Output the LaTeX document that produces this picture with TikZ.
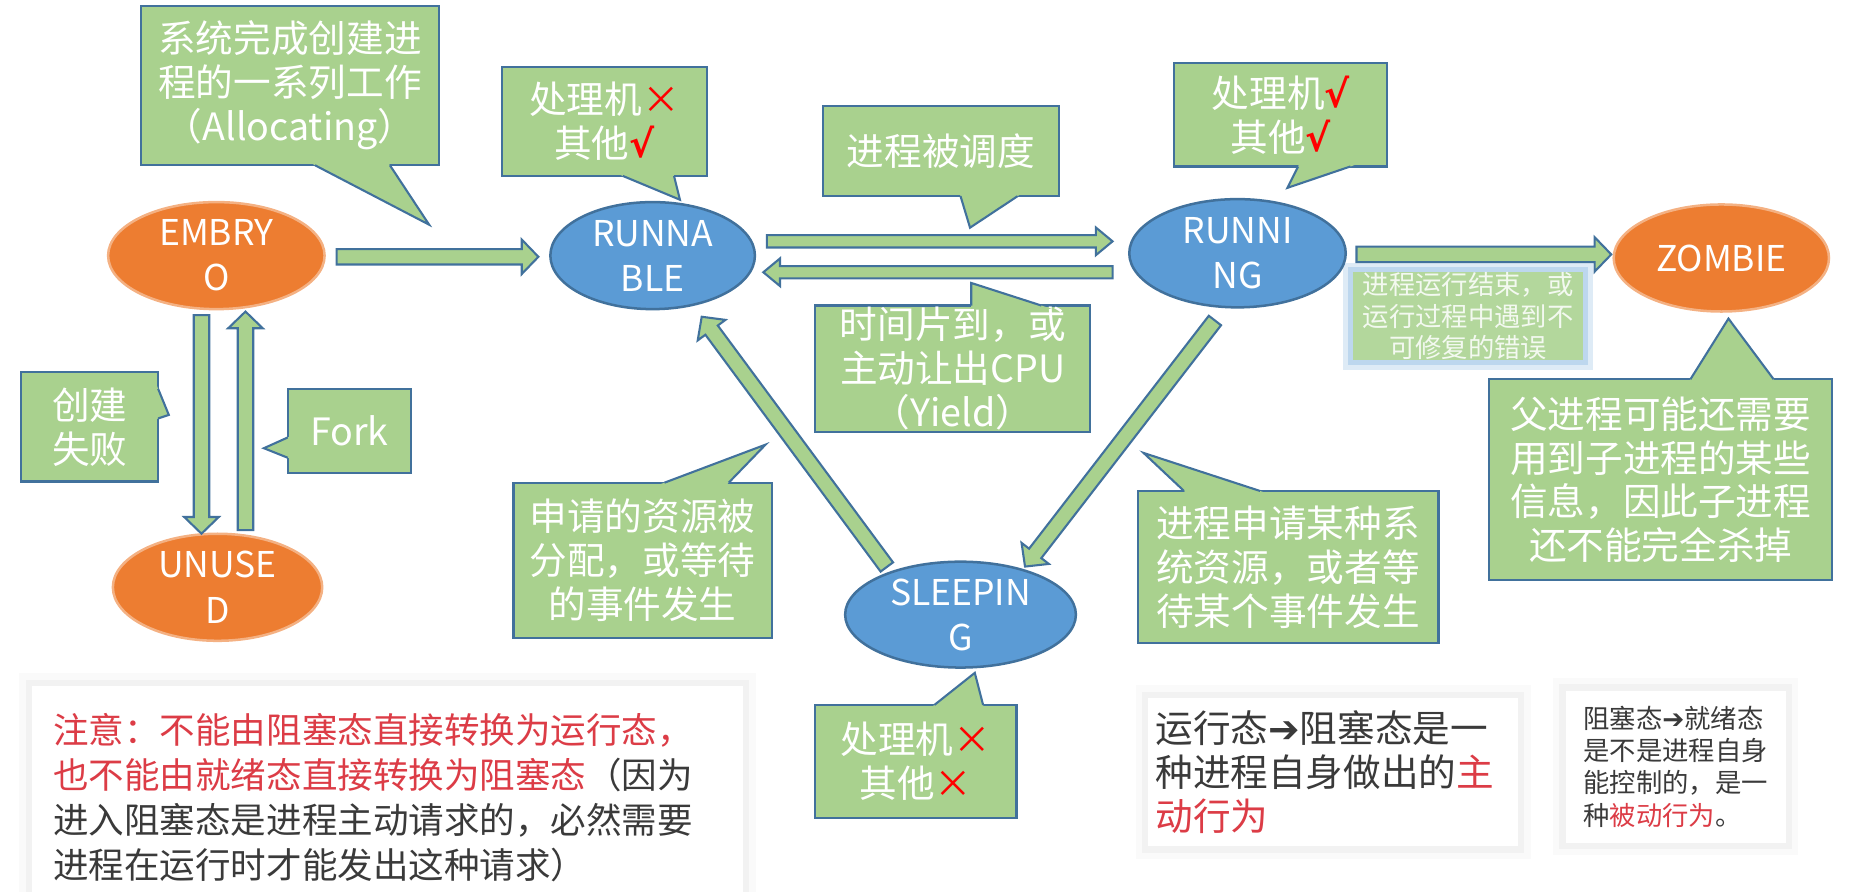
\documentclass[tikz,border=0pt]{standalone}
\usepackage{fontspec}
\setmainfont{Noto Sans CJK SC}
\newfontfamily\arrowfont{DejaVu Sans}
\usetikzlibrary{shapes, calc, positioning}
\definecolor{boxgreen}{HTML}{A9D18E}
\definecolor{lineblue}{HTML}{41719C}
\definecolor{stateorange}{HTML}{ED7D31}
\definecolor{orangeline}{HTML}{F4B183}
\definecolor{stateblue}{HTML}{5B9BD5}
\definecolor{notered}{HTML}{DC3C46}
\definecolor{notegray}{HTML}{3A3A3A}
\definecolor{glowblue}{HTML}{BDD7EE}
\newcommand\yes{\textcolor{red}{\arrowfont\bfseries √}}
\newcommand\no{\textcolor{red}{×}}
\tikzset{
    callbox/.style={rectangle, draw=lineblue, fill=boxgreen, line width=0.5pt, text=white, align=center, inner sep=0pt, font=\fontsize{9}{10.5}\selectfont},
    tailline/.style={draw=lineblue, line width=0.5pt},
    orangestate/.style={ellipse, draw=orangeline, fill=stateorange, line width=0.6pt, text=white, align=center, inner sep=-2pt, font=\fontsize{8.5}{10.8}\selectfont},
    bluestate/.style={ellipse, draw=lineblue, fill=stateblue, line width=0.6pt, text=white, align=center, inner sep=-2pt, font=\fontsize{8.5}{10.8}\selectfont},
    notebox/.style={rectangle, fill=white, inner ysep=0pt, align=left, text=notegray, preaction={draw=black!2, line width=6pt}, preaction={draw=black!5, line width=3pt}},
    blockarrow/.style={draw=lineblue, fill=boxgreen, line width=0.5pt, line join=miter}
}
% block arrow from #2 to #3, #1 scales its width
\newcommand\barrow[3][1]{%
  \path let \p1=(#2), \p2=(#3) in \pgfextra{%
    \pgfmathsetmacro\baang{atan2(\y2-\y1,\x2-\x1)}%
    \pgfmathsetmacro\balen{veclen(\x2-\x1,\y2-\y1)}%
    \xdef\baang{\baang}\xdef\balen{\balen}};
  \draw[blockarrow, shift={(#2)}, rotate=\baang, yscale=#1]
    (0pt,-0.065cm) -- (\balen pt-0.14cm,-0.065cm) -- (\balen pt-0.14cm,-0.145cm)
    -- (\balen pt,0pt) -- (\balen pt-0.14cm,0.145cm) -- (\balen pt-0.14cm,0.065cm)
    -- (0pt,0.065cm) -- cycle;
}
% pointer of a callout: two base points on the box edge and the tip
\newcommand\calltail[3]{%
  \fill[boxgreen] ($(#3)!1.15!(#1)$) -- (#3) -- ($(#3)!1.15!(#2)$) -- cycle;
  \draw[tailline] (#1) -- (#3) -- (#2);
}
\begin{document}
\begin{tikzpicture}[x=0.01cm, y=-0.01cm]
    \useasboundingbox (0,0) rectangle (1568,750);

    % Callouts
    \node (alloc) [callbox, minimum width=2.50cm, minimum height=1.34cm] at (244,72) {系统完成创建进\\程的一系列工作\\（Allocating）};
    \node (readynote) [callbox, minimum width=1.73cm, minimum height=0.92cm] at (508.5,102) {处理机\no\\其他\yes};
    \node (sched) [callbox, minimum width=1.99cm, minimum height=0.76cm] at (791.5,127) {进程被调度};
    \node (runnote) [callbox, minimum width=1.79cm, minimum height=0.87cm] at (1077.5,96.5) {处理机\yes\\其他\yes};
    \node (yield) [callbox, minimum width=2.31cm, minimum height=1.06cm] at (801.5,310) {时间片到，或\\主动让出CPU\\（Yield）};
    \node (fail) [callbox, minimum width=1.15cm, minimum height=0.92cm] at (75.5,359) {创建\\失败};
    \node (fork) [callbox, minimum width=1.04cm, minimum height=0.71cm] at (294,362.5) {Fork};
    \node (granted) [callbox, minimum width=2.17cm, minimum height=1.31cm] at (540.5,471.5) {申请的资源被\\分配，或等待\\的事件发生};
    \node (request) [callbox, minimum width=2.53cm, minimum height=1.28cm] at (1083.5,477) {进程申请某种系\\统资源，或者等\\待某个事件发生};
    \node (parent) [callbox, minimum width=2.88cm, minimum height=1.69cm] at (1397,403.5) {父进程可能还需要\\用到子进程的某些\\信息，因此子进程\\还不能完全杀掉};
    \node (sleepnote) [callbox, minimum width=1.69cm, minimum height=0.95cm] at (770.5,640.5) {处理机\no\\其他\no};

    \calltail{265,139}{328,139}{361,189}
    \calltail{524,148}{567,148}{572,168}
    \calltail{808,165}{856,165}{816,191.5}
    \calltail{1092,140}{1136,140}{1083,158}
    \calltail{817,257}{876,257}{817,238}
    \calltail{133,327}{133,352}{142,349}
    \calltail{242,368}{242,385}{222,377}
    \calltail{559,406}{613,406}{644,374}
    \calltail{996,413}{1060,413}{962,381}
    \calltail{1422,319}{1492,319}{1454,268}
    \calltail{786,593}{827,593}{820,566}

    \node (endnote) [rectangle, fill=boxgreen!88!white, draw=glowblue, line width=1.2pt, preaction={draw=glowblue!50, line width=3.5pt}, minimum width=1.98cm, minimum height=0.78cm, inner sep=0pt, align=center, text=white, text opacity=0.85, font=\fontsize{6.3}{7.5}\selectfont] at (1235,266) {进程运行结束，或\\运行过程中遇到不\\可修复的错误};

    % Process states
    \node (embryo) [orangestate, minimum width=1.82cm, minimum height=0.90cm] at (182,215) {EMBRY\\O};
    \node (runnable) [bluestate, minimum width=1.72cm, minimum height=0.90cm] at (549,215) {RUNNA\\BLE};
    \node (running) [bluestate, minimum width=1.82cm, minimum height=0.91cm] at (1041,213) {RUNNI\\NG};
    \node (zombie) [orangestate, minimum width=1.81cm, minimum height=0.90cm] at (1448,217) {ZOMBIE};
    \node (unused) [orangestate, minimum width=1.76cm, minimum height=0.90cm] at (183,494) {UNUSE\\D};
    \node (sleeping) [bluestate, minimum width=1.94cm, minimum height=0.89cm] at (808,517) {SLEEPIN\\G};

    % Transitions
    \barrow{$(embryo.east)+(9,1)$}{$(runnable.west)+(-9,1)$}
    \barrow[0.8]{$(runnable.east)+(9,-12)$}{$(running.west)+(-13,-10)$}
    \barrow[0.8]{$(running.west)+(-13,16)$}{$(runnable.east)+(6,14)$}
    \barrow{$(running.east)+(8,1)$}{$(zombie.west)+(-1,-3)$}
    \barrow{$(embryo.south)+(-12.5,4)$}{$(unused.north)+(-13.5,1)$}
    \barrow{$(unused.north)+(23.5,-2)$}{$(embryo.south)+(24.5,1)$}
    \barrow{$(running.south)+(-19,10)$}{$(sleeping.north)+(54,5.5)$}
    \barrow{$(sleeping.north)+(-62,5.5)$}{$(runnable.south)+(41,5)$}

    % Notes at the bottom
    \node (rule) [notebox, minimum width=5.98cm, minimum height=1.88cm, text width=5.62cm, inner xsep=0.18cm, font=\fontsize{8.5}{10.8}\selectfont] at (326,671) {\textcolor{notered}{注意：不能由阻塞态直接转换为运行态，}\\\textcolor{notered}{也不能由就绪态直接转换为阻塞态}（因为\\进入阻塞态是进程主动请求的，必然需要\\进程在运行时才能发出这种请求）};
    \node (activenote) [notebox, minimum width=3.11cm, minimum height=1.25cm, text width=2.99cm, inner xsep=0.06cm, font=\fontsize{9}{10.6}\selectfont] at (1121.5,649.5) {运行态{\arrowfont ➔}阻塞态是一\\种进程自身做出的\textcolor{notered}{主}\\\textcolor{notered}{动行为}};
    \node (passivenote) [notebox, minimum width=1.85cm, minimum height=1.28cm, text width=1.55cm, inner xsep=0.15cm, font=\fontsize{6.3}{7.7}\selectfont] at (1409.5,645) {阻塞态{\arrowfont ➔}就绪态\\是不是进程自身\\能控制的，是一\\种\textcolor{notered}{被动行为}。};
\end{tikzpicture}
\end{document}
